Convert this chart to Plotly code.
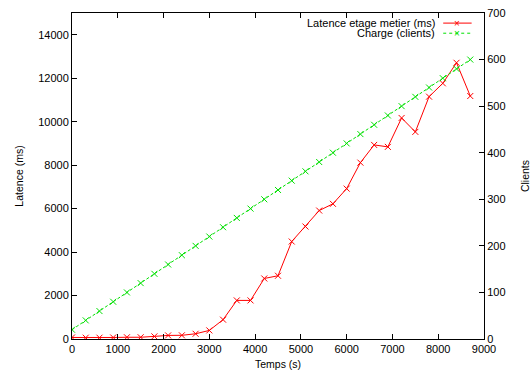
import plotly.graph_objects as go

temps = [0, 300, 600, 900, 1200, 1500, 1800, 2100, 2400, 2700, 3000, 3300, 3600, 3900,
         4200, 4500, 4800, 5100, 5400, 5700, 6000, 6300, 6600, 6900, 7200, 7500, 7800,
         8100, 8400, 8700]
latence = [70, 60, 60, 70, 80, 80, 120, 165, 170, 240, 395, 890, 1775, 1775,
           2785, 2910, 4485, 5175, 5910, 6220, 6920, 8115, 8930, 8840, 10170, 9530, 11150,
           11765, 12710, 11180]
clients = [20, 40, 60, 80, 100, 120, 140, 160, 180, 200, 220, 240, 260, 280, 300, 320,
           340, 360, 380, 400, 420, 440, 460, 480, 500, 520, 540, 560, 580, 600]

RED = "#ff0000"
GREEN = "#00e000"
FONT = "Liberation Sans, Arial, sans-serif"

fig = go.Figure()
fig.add_trace(go.Scatter(
    x=temps, y=latence, mode="lines+markers", name="Latence etage metier (ms)",
    line=dict(color=RED, width=1),
    marker=dict(symbol="x-thin", size=6, line=dict(color=RED, width=1)),
    yaxis="y", showlegend=False))
fig.add_trace(go.Scatter(
    x=temps, y=clients, mode="lines+markers", name="Charge (clients)",
    line=dict(color=GREEN, width=1, dash="3px,2px"),
    marker=dict(symbol="x-thin", size=6, line=dict(color=GREEN, width=1)),
    yaxis="y2", showlegend=False))

# custom gnuplot-style legend (text right-aligned, sample on the right)
legend_items = [("Latence etage metier (ms)", RED, "solid"),
                ("Charge (clients)", GREEN, "dot")]
shapes = []
annotations = []
x_text = 0.885
x0s, x1s = 0.901, 0.97
for i, (label, col, dash) in enumerate(legend_items):
    yy = 0.969 - i * 0.031
    annotations.append(dict(xref="paper", yref="paper", x=x_text, y=yy, text=label,
                            showarrow=False, xanchor="right", yanchor="middle",
                            font=dict(family=FONT, size=11, color="#000")))
    shapes.append(dict(type="line", xref="paper", yref="paper", x0=x0s, x1=x1s,
                       y0=yy, y1=yy, line=dict(color=col, width=1, dash=dash)))
    annotations.append(dict(xref="paper", yref="paper", x=(x0s + x1s) / 2, y=yy,
                            text="×", showarrow=False, xanchor="center", yanchor="middle",
                            font=dict(family=FONT, size=10, color=col)))

fig.update_layout(
    width=531, height=371,
    margin=dict(l=72, r=47, t=13, b=32),
    paper_bgcolor="white", plot_bgcolor="white",
    font=dict(family=FONT, size=11, color="#000"),
    shapes=shapes, annotations=annotations,
    xaxis=dict(range=[0, 9000], tickvals=list(range(0, 9001, 1000)), tickformat="d",
               ticks="inside", ticklen=5, tickcolor="#000", showline=True,
               linecolor="#000", linewidth=1, mirror="ticks", showgrid=False,
               zeroline=False, automargin=False,
               title=dict(text="Temps (s)", standoff=6, font=dict(size=10.5))),
    yaxis=dict(range=[0, 15000], tickvals=list(range(0, 14001, 2000)), tickformat="d",
               ticks="inside", ticklen=5, tickcolor="#000", showline=True,
               linecolor="#000", linewidth=1, showgrid=False, zeroline=False,
               automargin=False,
               title=dict(text="Latence (ms)", standoff=12, font=dict(size=10.5))),
    yaxis2=dict(range=[0, 700], tickvals=list(range(0, 701, 100)), tickformat="d",
                overlaying="y", side="right", ticks="inside", ticklen=5,
                tickcolor="#000", showline=True, linecolor="#000", linewidth=1,
                showgrid=False, zeroline=False, automargin=False,
                title=dict(text="Clients", standoff=20, font=dict(size=10.5))),
)

fig.write_html("out.html", config={"displayModeBar": False},
               post_script="document.body.style.margin='0';document.body.style.overflow='hidden';")
